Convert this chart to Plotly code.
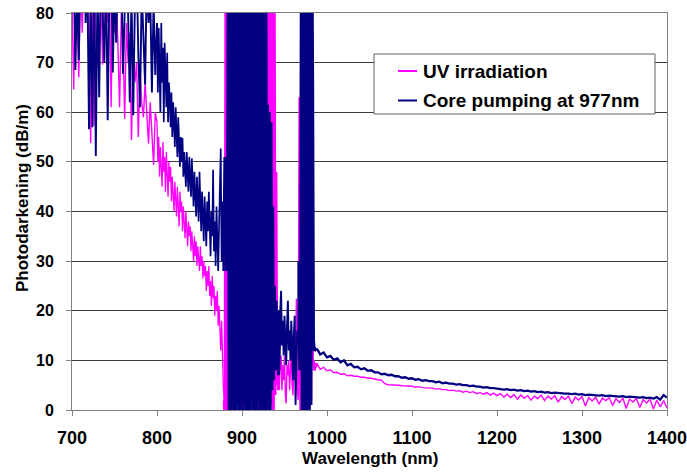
import plotly.graph_objects as go

# ---- wavelength grid (nm), by segment ----
wl_a1 = list(range(700, 800, 2))    # 700..798
wl_a2 = list(range(800, 879))       # 800..878
wl_b = list(range(879, 945))        # 879..944  (saturated band 1)
wl_c = list(range(945, 967))        # 945..966
wl_d = list(range(967, 986))        # 967..985  (saturated band 2)
wl_e = list(range(988, 1401, 4))    # 988..1400

# ---- Core pumping at 977nm (dB/m) ----
core_a1 = [84, 88, 68.5, 86, 70.5, 90, 82, 95, 78, 88,
           56.6, 84, 57, 90, 51.2, 86, 63, 92, 80, 70,
           88, 58.4, 85, 92, 68, 86, 74, 90, 82, 88,
           67.7, 85, 93, 80, 62, 84, 59.4, 82, 90, 72,
           61, 85, 76, 65.6, 88, 78, 84, 64, 82, 67.5]
core_a2 = [78, 64, 77, 70, 60, 78, 66, 73, 58, 74,
           67, 61, 72, 58, 66, 63, 57, 64, 55, 62,
           58, 53, 61, 56, 51, 59, 53, 49, 55, 50,
           54.8, 47, 52, 49, 45, 52, 47, 44, 51, 46,
           43, 50.7, 45, 41, 48, 43, 39, 47, 42, 38,
           48, 40, 36, 44, 39, 34, 43, 37, 33, 42,
           36, 44, 34, 31, 40, 35, 48.4, 32, 38, 29,
           41, 34, 28, 37, 45, 52.7, 30, 42, 28]
core_b = [35, 51, 28, 45, 30, 95, 0, 100, -8, 92,
          3, 98, -2, 94, 0, 57, 1, 96, -6, 99,
          2, 93, -4, 97, 1, 95, -3, 100, 0, 91,
          -7, 96, 2, 98, -5, 94, 0, 99, -2, 92,
          3, 97, -6, 95, 1, 100, -3, 93, 0, 90,
          -4, 61.5, 2, 60, -1, 58, 4, 41, 6, 25,
          8, 22, 9, 20, 7, 18]
core_c = [20, 24, 13, 18, 11, 19, 14, 9, 17, 22, 12,
          16, 10, 18, 13, 6, 15, 19, 1, 12, 16, 14]
core_d = [30, 8, 14, 95, -4, 98, 0, 94, -6, 97,
          2, 99, -3, 92, 1, 96, 66, 14, 12]
core_e = [12.4, 11.2, 11.6, 10.6, 10.9, 10.1, 10.4, 9.6, 10.0, 9.0,
          9.3, 8.6, 8.7, 8.2, 8.4, 7.9, 8.0, 7.6, 7.6, 7.2,
          7.3, 7.0, 7.1, 6.8, 6.8, 6.5, 6.6, 6.3, 6.4, 6.1,
          6.2, 5.9, 6.0, 5.8, 5.8, 5.6, 5.7, 5.4, 5.5, 5.3,
          5.3, 5.1, 5.2, 5.0, 5.0, 4.8, 4.9, 4.7, 4.7, 4.5,
          4.6, 4.4, 4.4, 4.3, 4.3, 4.1, 4.2, 4.0, 4.1, 3.9,
          4.0, 3.8, 3.9, 3.7, 3.8, 3.6, 3.7, 3.5, 3.6, 3.4,
          3.5, 3.4, 3.4, 3.3, 3.3, 3.2, 3.3, 3.1, 3.2, 3.0,
          3.1, 3.0, 3.0, 2.9, 3.0, 2.8, 2.9, 2.8, 2.8, 2.7,
          2.8, 2.6, 2.7, 2.6, 2.6, 2.5, 2.6, 2.4, 2.5, 2.3,
          2.6, 2.1, 3.0, 2.5]

# ---- UV irradiation (dB/m) ----
uv_a1 = [82, 64.6, 86, 80, 67, 88, 76, 90, 84, 86,
         78, 53.8, 85, 57.4, 88, 80, 90, 84, 69.6, 86,
         82, 78, 88, 61, 84, 76, 86, 72, 61, 80,
         74, 58.7, 78, 70, 76, 54.4, 72, 66, 70, 55,
         68, 62, 59, 66, 60, 53.7, 62, 56, 49.4, 60]
uv_a2 = [58, 50, 55, 47, 53, 49, 45, 54, 48, 51,
         44, 52, 47, 43, 50, 46, 49, 42, 47, 44,
         40, 46, 43, 39, 45, 41, 37, 44, 40, 42,
         36, 41, 38, 34.6, 40, 36, 33, 38, 35, 37,
         32, 36, 33, 30, 35, 31, 34, 29, 33, 30,
         28, 33, 29, 31, 26.5, 30, 27, 29, 24, 28,
         25, 29, 23, 26, 21, 27, 22.5, 25, 19, 23,
         20, 24, 17, 21, 15, 12, 18, 7, 5]
uv_b = [2, -3, 90, 0, 95, -2, 92, 1, 96, -4,
        93, 0, 97, -1, 95, 97, 2, 91, -3, 94,
        0, 96, -2, 92, 1, 95, -4, 93, 0, 97,
        -1, 94, 2, 96, -3, 92, 0, 95, -2, 93,
        1, 97, -4, 94, 0, 96, -1, 92, 2, 95,
        -3, 97, 0, 93, -4, 96, 1, 94, -2, 90,
        3, 48, 5, 12, 4, 10]
uv_c = [8, 11, 4, 9, 6, 11, 3, 1.3, 9, 7, 10,
        4, 8, 11, 5, 3, 9, 6, 12, 22.4, 5, 2]
uv_d = [5, 63, 0, 90, -2, 95, 1, 93, -3, 96,
        0, 92, -1, 94, 2, 97, 9, 10, 8]
uv_e = [9.4, 8.2, 8.6, 7.9, 8.1, 7.5, 7.6, 7.2, 7.3, 6.9,
        7.0, 6.8, 6.8, 6.6, 6.6, 6.4, 6.4, 6.2, 6.1, 6.0,
        5.3, 5.1, 5.1, 5.0, 5.0, 4.9, 4.9, 4.8, 4.8, 4.6,
        4.7, 4.5, 4.5, 4.4, 4.4, 4.2, 4.3, 4.1, 4.1, 3.9,
        4.0, 3.8, 3.9, 3.6, 3.8, 3.5, 3.7, 3.3, 3.5, 3.2,
        3.5, 3.0, 3.4, 2.9, 3.3, 2.6, 3.2, 2.5, 3.1, 2.2,
        3.0, 2.4, 2.9, 2.0, 2.8, 2.3, 3.0, 1.9, 2.8, 2.2,
        2.9, 1.6, 2.7, 2.1, 2.8, 1.3, 2.6, 2.0, 2.7, 0.8,
        2.5, 1.8, 2.6, 1.2, 2.4, 1.9, 2.5, 0.9, 2.3, 1.5,
        2.4, 0.3, 2.2, 1.6, 2.3, 0.5, 2.1, 1.4, 2.2, 0.2,
        2.0, 0.6, 1.9, 0.4]

x_ticks = [700, 800, 900, 1000, 1100, 1200, 1300, 1400]
y_ticks = [0, 10, 20, 30, 40, 50, 60, 70, 80]
series_names = ["UV irradiation", "Core pumping at 977nm"]
series_colors = ["#FF00FF", "#000080"]

wl_segs = [wl_a1, wl_a2, wl_b, wl_c, wl_d, wl_e]
uv_segs = [uv_a1, uv_a2, uv_b, uv_c, uv_d, uv_e]
core_segs = [core_a1, core_a2, core_b, core_c, core_d, core_e]
uv_widths = [1.4, 1.3, 2.8, 1.4, 2.8, 1.4]
core_widths = [1.9, 1.7, 3.2, 1.9, 3.2, 2.3]

W, H = 687, 474
L, R, T, B = 72, 20, 13, 64
pw, ph = W - L - R, H - T - B

def px(xp):
    return (xp - L) / pw

def py(yp):
    return (H - B - yp) / ph

FONT = "Liberation Sans, Arial, sans-serif"

fig = go.Figure()

def add_series(vals_segs, widths, name, color):
    n = len(wl_segs)
    for i in range(n):
        xs = list(wl_segs[i])
        ys = list(vals_segs[i])
        if i + 1 < n:  # join to the first point of the next segment
            xs.append(wl_segs[i + 1][0])
            ys.append(vals_segs[i + 1][0])
        fig.add_trace(go.Scatter(x=xs, y=ys, mode="lines", name=name,
                                 line=dict(color=color, width=widths[i]),
                                 showlegend=False, hoverinfo="x+y"))

add_series(uv_segs, uv_widths, series_names[0], series_colors[0])
add_series(core_segs, core_widths, series_names[1], series_colors[1])

fig.update_layout(
    width=W, height=H, autosize=False,
    margin=dict(l=L, r=R, t=T, b=B, pad=0, autoexpand=False),
    paper_bgcolor="white", plot_bgcolor="white",
    font=dict(family=FONT, color="black"),
)
fig.update_xaxes(range=[700, 1400], tickvals=x_ticks, ticktext=[str(v) for v in x_ticks],
                 automargin=False, ticklabeloverflow="allow",
                 showgrid=False, zeroline=False,
                 showline=True, linecolor="#808080", linewidth=1, mirror=True,
                 ticks="outside", ticklen=5, tickcolor="#808080",
                 tickfont=dict(family=FONT, size=18, weight="bold"),
                 ticklabelstandoff=6)
fig.update_yaxes(range=[0, 80], tickvals=y_ticks, ticktext=[str(v) for v in y_ticks],
                 automargin=False, ticklabeloverflow="allow",
                 showgrid=True, gridcolor="#3c3c3c", gridwidth=1, zeroline=False,
                 showline=True, linecolor="#808080", linewidth=1, mirror=True,
                 ticks="outside", ticklen=5, tickcolor="#808080",
                 tickfont=dict(family=FONT, size=16, weight="bold"),
                 ticklabelstandoff=9)

# axis titles
fig.add_annotation(text="<b>Wavelength (nm)</b>", xref="paper", yref="paper",
                   x=px(370), y=py(458), xanchor="center", yanchor="middle",
                   showarrow=False, font=dict(family=FONT, size=17, color="black"))
fig.add_annotation(text="<b>Photodarkening (dB/m)</b>", xref="paper", yref="paper",
                   x=px(22), y=py(198), xanchor="center", yanchor="middle", textangle=-90,
                   showarrow=False, font=dict(family=FONT, size=17, color="black"))

# legend box (manual)
fig.add_shape(type="rect", xref="paper", yref="paper",
              x0=px(374), x1=px(655), y0=py(114), y1=py(54),
              line=dict(color="#606060", width=1), fillcolor="white", layer="above")
for i, (name, col) in enumerate(zip(series_names, series_colors)):
    yy = [71, 100.5][i]
    fig.add_shape(type="line", xref="paper", yref="paper",
                  x0=px(398), x1=px(417), y0=py(yy), y1=py(yy),
                  line=dict(color=col, width=2), layer="above")
    fig.add_annotation(text="<b>" + name + "</b>", xref="paper", yref="paper",
                       x=px(421), y=py(yy), xanchor="left", yanchor="middle",
                       showarrow=False, font=dict(family=FONT, size=19, color="black"))

fig.write_html("out.html")
